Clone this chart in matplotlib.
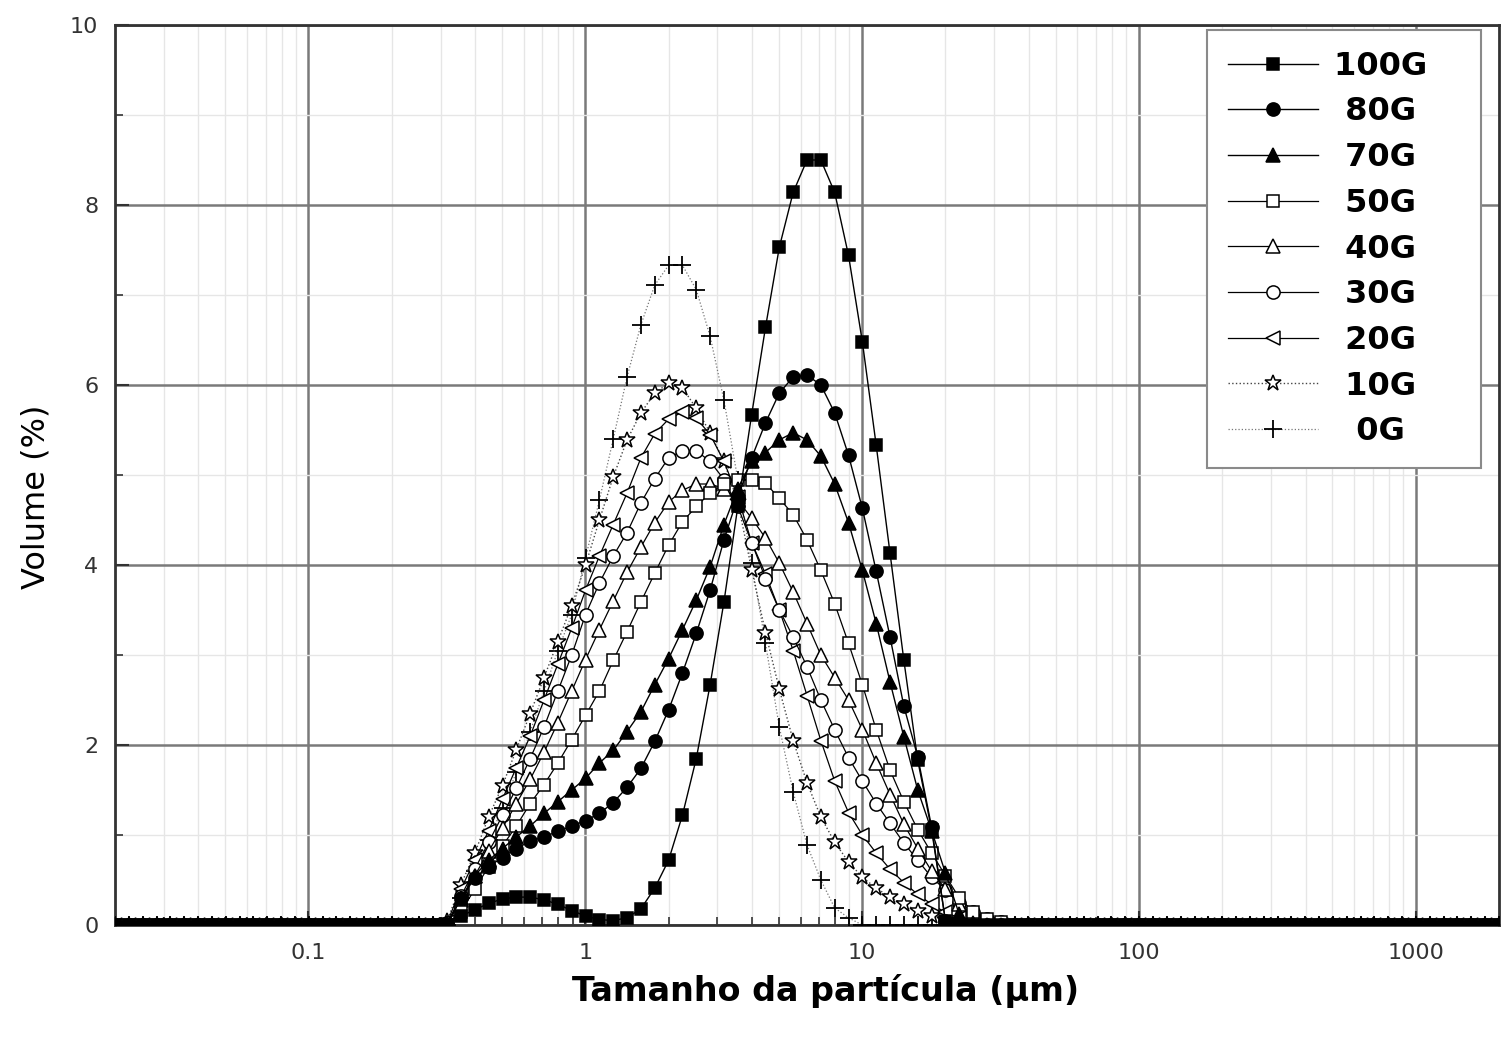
import numpy as np
import matplotlib
matplotlib.use("Agg")
import matplotlib.pyplot as plt
from matplotlib.ticker import LogLocator, NullFormatter, MultipleLocator

# laser diffraction size classes, 0.02 - 2000 um (20 per decade)
size_um = np.logspace(np.log10(0.02), np.log10(2000), 101)
first = 24  # class at ~0.32 um, everything outside the lists below is 0

labels = ["100G", " 80G", " 70G", " 50G", " 40G", " 30G", " 20G", " 10G", "  0G"]

# volume (%) per class, from ~0.32 um to ~32 um
v100 = [0.0, 0.1, 0.17, 0.24, 0.29, 0.31, 0.31, 0.28, 0.23, 0.16, 0.1,
        0.06, 0.05, 0.08, 0.18, 0.41, 0.72, 1.22, 1.85, 2.67, 3.59, 4.65, 5.67, 6.64, 7.53, 8.14,
        8.5, 8.5, 8.14, 7.44, 6.48, 5.33, 4.13, 2.94, 1.83, 1.06, 0.05, 0, 0, 0, 0]
v80 = [0.0, 0.3, 0.52, 0.65, 0.75, 0.85, 0.93, 0.98, 1.04, 1.1, 1.16,
       1.24, 1.36, 1.53, 1.74, 2.04, 2.39, 2.8, 3.24, 3.72, 4.28, 4.75, 5.19, 5.58, 5.91, 6.09,
       6.11, 6.0, 5.69, 5.22, 4.63, 3.93, 3.2, 2.43, 1.87, 1.09, 0.05, 0, 0, 0, 0]
v70 = [0.0, 0.3, 0.55, 0.72, 0.85, 0.98, 1.1, 1.24, 1.37, 1.5, 1.63,
       1.8, 1.94, 2.15, 2.37, 2.67, 2.96, 3.28, 3.61, 3.98, 4.45, 4.85, 5.15, 5.25, 5.39, 5.47,
       5.39, 5.21, 4.9, 4.47, 3.94, 3.35, 2.7, 2.09, 1.5, 1.05, 0.58, 0.12, 0.02, 0, 0]
v50 = [0.0, 0.15, 0.4, 0.65, 0.88, 1.1, 1.35, 1.56, 1.8, 2.06, 2.33,
       2.6, 2.94, 3.26, 3.59, 3.91, 4.22, 4.48, 4.65, 4.8, 4.9, 4.95, 4.95, 4.91, 4.74, 4.56,
       4.28, 3.94, 3.57, 3.13, 2.67, 2.17, 1.72, 1.37, 1.06, 0.8, 0.55, 0.3, 0.15, 0.07, 0.03]
v40 = [0.02, 0.28, 0.55, 0.82, 1.08, 1.35, 1.62, 1.92, 2.25, 2.6, 2.95,
       3.28, 3.6, 3.92, 4.2, 4.47, 4.7, 4.83, 4.9, 4.9, 4.85, 4.72, 4.52, 4.3, 4.02, 3.7,
       3.35, 3.0, 2.75, 2.5, 2.17, 1.8, 1.45, 1.12, 0.85, 0.6, 0.4, 0.23, 0.12, 0.06, 0.02]
v30 = [0.02, 0.32, 0.62, 0.92, 1.22, 1.52, 1.85, 2.2, 2.6, 3.0, 3.45,
       3.8, 4.1, 4.36, 4.69, 4.96, 5.19, 5.27, 5.27, 5.15, 4.95, 4.65, 4.25, 3.85, 3.5, 3.2,
       2.87, 2.5, 2.17, 1.86, 1.6, 1.35, 1.13, 0.91, 0.72, 0.53, 0.39, 0.25, 0.14, 0.07, 0.03]
v20 = [0.03, 0.4, 0.72, 1.05, 1.4, 1.75, 2.1, 2.5, 2.9, 3.3, 3.72,
       4.1, 4.45, 4.8, 5.19, 5.46, 5.62, 5.7, 5.63, 5.45, 5.15, 4.76, 4.25, 3.9, 3.5, 3.05,
       2.55, 2.05, 1.6, 1.25, 1.0, 0.8, 0.62, 0.47, 0.34, 0.23, 0.14, 0.08, 0.04, 0.0, 0.0]
v10 = [0.05, 0.45, 0.8, 1.2, 1.55, 1.95, 2.35, 2.75, 3.15, 3.55, 4.0,
       4.5, 4.98, 5.39, 5.69, 5.91, 6.02, 5.97, 5.74, 5.47, 5.15, 4.7, 3.95, 3.25, 2.62, 2.05,
       1.58, 1.2, 0.92, 0.7, 0.53, 0.41, 0.31, 0.23, 0.16, 0.1, 0.06, 0.03, 0, 0, 0]
v0 = [0.0, 0.3, 0.6, 0.95, 1.3, 1.7, 2.15, 2.6, 3.05, 3.45, 4.08,
      4.72, 5.4, 6.09, 6.67, 7.11, 7.33, 7.33, 7.06, 6.54, 5.83, 4.95, 4.02, 3.13, 2.2, 1.48,
      0.89, 0.5, 0.19, 0.08, 0, 0, 0, 0, 0, 0, 0, 0, 0, 0, 0]

xtick_vals = [0.1, 1, 10, 100, 1000]
xtick_labels = ["0.1", "1", "10", "100", "1000"]


def full(vals):
    y = np.zeros(len(size_um))
    y[first:first + len(vals)] = vals
    return y


series = [v100, v80, v70, v50, v40, v30, v20, v10, v0]
# marker, face, size, linestyle, line colour, line width
styles = [("s", "k", 9, "-", "k", 1.0),
          ("o", "k", 9.5, "-", "k", 1.0),
          ("^", "k", 10, "-", "k", 1.0),
          ("s", "w", 9, "-", "k", 0.9),
          ("^", "w", 10, "-", "k", 0.9),
          ("o", "w", 9.5, "-", "k", 0.9),
          ("<", "w", 10, "-", "k", 0.9),
          ("*", "w", 12, ":", "#444444", 1.0),
          ("+", "w", 13, ":", "#777777", 0.9)]

fig = plt.figure(figsize=(15.01, 10.38), dpi=100)
ax = fig.add_axes([115 / 1501, 113 / 1038, 1384 / 1501, 900 / 1038])

handles = [None] * len(series)
for i in reversed(range(len(series))):
    m, fc, ms, ls, lc, lw = styles[i]
    h, = ax.plot(size_um, full(series[i]), linestyle=ls, color=lc, lw=lw,
                 marker=m, markersize=ms, markerfacecolor=fc,
                 markeredgecolor="k", markeredgewidth=1.1 if m != "+" else 1.3,
                 zorder=3 + (len(series) - i) * 0.1)
    handles[i] = h

ax.set_xscale("log")
ax.set_xlim(0.02, 2000)
ax.set_ylim(0, 10)
ax.set_xticks(xtick_vals)
ax.set_xticklabels(xtick_labels)
ax.xaxis.set_minor_locator(LogLocator(base=10, subs=np.arange(2, 10), numticks=20))
ax.xaxis.set_minor_formatter(NullFormatter())
ax.yaxis.set_major_locator(MultipleLocator(2))
ax.yaxis.set_minor_locator(MultipleLocator(1))

ax.grid(which="major", color="#7a7a7a", lw=1.8, zorder=0)
ax.grid(which="minor", color="#e6e6e6", lw=1.0, zorder=0)
ax.set_axisbelow(True)

for s in ax.spines.values():
    s.set_linewidth(2)
    s.set_color("#333333")

ax.tick_params(which="both", direction="in", top=False, right=False,
               labelsize=16, labelcolor="#333333", color="#333333")
ax.tick_params(which="major", length=10, width=1.5)
ax.tick_params(which="minor", length=6, width=1.2)
ax.tick_params(axis="x", pad=13)
ax.tick_params(axis="y", pad=12)

ax.set_xlabel("Tamanho da partícula (μm)", fontsize=24, fontweight="bold")
ax.xaxis.set_label_coords(0.5137, -0.055)
ax.set_ylabel("Volume (%)", fontsize=23)
ax.yaxis.set_label_coords(-0.046, 0.476)

leg = ax.legend(handles, [l + "   " for l in labels], loc="upper right",
                bbox_to_anchor=(1366 / 1384, 1 - 5 / 900), borderaxespad=0,
                fancybox=False, framealpha=1, edgecolor="#8a8a8a",
                prop={"size": 23, "weight": "bold"},
                handlelength=2.8, handletextpad=0.5, labelspacing=0.46,
                borderpad=0.65, numpoints=1)
leg.get_frame().set_linewidth(1.5)

fig.savefig("out.png", dpi=100)
